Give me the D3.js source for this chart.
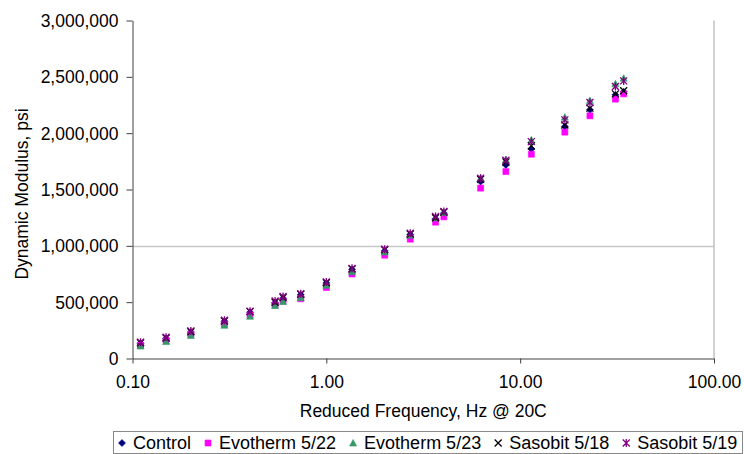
<!DOCTYPE html>
<html>
<head>
<meta charset="utf-8">
<script src="https://cdnjs.cloudflare.com/ajax/libs/d3/7.8.5/d3.min.js"></script>
<style>
  body { margin: 0; background: #fff; }
  svg { display: block; font-family: "Liberation Sans", Arial, sans-serif; }
</style>
</head>
<body>
<div id="container"></div>
<script>
// Data
var freq = [0.11, 0.149, 0.2, 0.298, 0.404, 0.544, 0.598, 0.738, 1.0, 1.357, 2.0,
  2.71, 3.66, 4.04, 6.25, 8.44, 11.42, 17.0, 22.9, 31.0, 34.2];
var control = [135000, 178000, 235000, 330000, 410000, 495000, 535000, 565000, 670000, 790000, 955000,
  1100000, 1240000, 1290000, 1570000, 1718000, 1860000, 2059000, 2207000, 2340000, 2367000];
var evo522 = [120000, 160000, 215000, 305000, 385000, 475000, 510000, 530000, 630000, 750000, 917000,
  1059000, 1210000, 1257000, 1512000, 1659000, 1813000, 2009000, 2154000, 2302000, 2349000];
var evo523 = [110000, 150000, 205000, 295000, 375000, 470000, 505000, 540000, 650000, 770000, 945000,
  1095000, 1250000, 1295000, 1605000, 1765000, 1940000, 2142000, 2290000, 2438000, 2488000];
var sas518 = [140000, 182000, 238000, 333000, 416000, 499000, 540000, 570000, 673000, 795000, 965000,
  1105000, 1250000, 1300000, 1590000, 1745000, 1887000, 2073000, 2222000, 2349000, 2376000];
var sas519 = [145000, 188000, 245000, 340000, 420000, 510000, 550000, 575000, 680000, 800000, 970000,
  1112000, 1260000, 1305000, 1600000, 1760000, 1925000, 2118000, 2272000, 2414000, 2464000];
var seriesNames = ["Control", "Evotherm 5/22", "Evotherm 5/23", "Sasobit 5/18", "Sasobit 5/19"];
var xTicks = [0.1, 1, 10, 100];
var yTicks = [0, 500000, 1000000, 1500000, 2000000, 2500000, 3000000];

var width = 744, height = 454;
var plotLeft = 132.5, plotRight = 714, plotTop = 20.5, plotBottom = 358.5;
var fontSize = 17.5;

var series = [
  { name: seriesNames[0], values: control, shape: "diamond", color: "#000080" },
  { name: seriesNames[1], values: evo522, shape: "square", color: "#ff00ff" },
  { name: seriesNames[2], values: evo523, shape: "triangle", color: "#339966" },
  { name: seriesNames[3], values: sas518, shape: "x", color: "#000000" },
  { name: seriesNames[4], values: sas519, shape: "star", color: "#800080" }
];

var svg = d3.select("#container").append("svg")
  .attr("width", width)
  .attr("height", height);

var x = d3.scaleLog().domain([0.1, 100]).range([plotLeft, plotRight]);
var y = d3.scaleLinear().domain([0, 3000000]).range([plotBottom, plotTop]);

// marker path, centred on 0,0
var markerPath = function(shape) {
  var r = 3.5;
  if (shape === "diamond") return "M0," + (-r) + "L" + r + ",0L0," + r + "L" + (-r) + ",0Z";
  if (shape === "square") return "M-3,-3H3V3H-3Z";
  if (shape === "triangle") return "M0,-3.5L3.5,3L-3.5,3Z";
  if (shape === "x") return "M-3.5,-3.5L3.5,3.5M-3.5,3.5L3.5,-3.5";
  return "M-3.5,-3.5L3.5,3.5M-3.5,3.5L3.5,-3.5M0,-4V4";
};

var drawMarker = function(g, s) {
  var stroked = (s.shape === "x" || s.shape === "star");
  g.append("path")
    .attr("d", markerPath(s.shape))
    .attr("fill", stroked ? "none" : s.color)
    .attr("stroke", s.color)
    .attr("stroke-width", stroked ? 1.3 : 0.6);
};

// gridline at 1,000,000 and right border
svg.append("line")
  .attr("x1", plotLeft).attr("x2", plotRight)
  .attr("y1", Math.round(y(1000000)) + 0.5).attr("y2", Math.round(y(1000000)) + 0.5)
  .attr("stroke", "#c8c8c8").attr("stroke-width", 1.5);
svg.append("line")
  .attr("x1", plotRight).attr("x2", plotRight)
  .attr("y1", plotTop).attr("y2", plotBottom)
  .attr("stroke", "#c0c0c0").attr("stroke-width", 1.5);

// axes
var xAxis = d3.axisBottom(x).tickValues(xTicks).tickFormat(d3.format(".2f")).tickSize(5).tickSizeOuter(0);
var yAxis = d3.axisLeft(y).tickValues(yTicks).tickFormat(d3.format(",")).tickSize(6).tickSizeOuter(0);

var gx = svg.append("g").attr("transform", "translate(0," + plotBottom + ")").call(xAxis);
var gy = svg.append("g").attr("transform", "translate(" + plotLeft + ",0)").call(yAxis);

[gx, gy].forEach(function(g) {
  g.select(".domain").attr("stroke", "#404040");
  g.selectAll(".tick line").attr("stroke", "#404040");
  g.selectAll(".tick text")
    .attr("fill", "#000")
    .style("font-size", fontSize + "px")
    .style("font-family", "'Liberation Sans', Arial, sans-serif");
});
gx.selectAll(".tick text").attr("dy", "0").attr("y", 29);
gy.selectAll(".tick text").attr("x", -14).attr("dy", "0.35em");

// axis titles
svg.append("text")
  .attr("x", (plotLeft + plotRight) / 2)
  .attr("y", 417)
  .attr("text-anchor", "middle")
  .style("font-size", fontSize + "px")
  .text("Reduced Frequency, Hz @ 20C");

svg.append("text")
  .attr("transform", "translate(28,194) rotate(-90)")
  .attr("text-anchor", "middle")
  .style("font-size", fontSize + "px")
  .text("Dynamic Modulus, psi");

// points
series.forEach(function(s) {
  var pts = svg.append("g").selectAll("g").data(s.values).enter().append("g")
    .attr("transform", function(d, i) {
      return "translate(" + x(freq[i]) + "," + y(d) + ")";
    });
  pts.each(function() { drawMarker(d3.select(this), s); });
});

// legend
var legend = svg.append("g");
legend.append("rect")
  .attr("x", 113.5).attr("y", 431.5)
  .attr("width", 629).attr("height", 22)
  .attr("fill", "#fff").attr("stroke", "#888");

var cx = 122;
series.forEach(function(s) {
  var g = legend.append("g").attr("transform", "translate(" + cx + ",443)");
  drawMarker(g, s);
  var t = legend.append("text")
    .attr("x", cx + 11)
    .attr("y", 449)
    .style("font-size", "18px")
    .text(s.name);
  cx = cx + 11 + t.node().getComputedTextLength() + 17;
});
</script>
</body>
</html>
